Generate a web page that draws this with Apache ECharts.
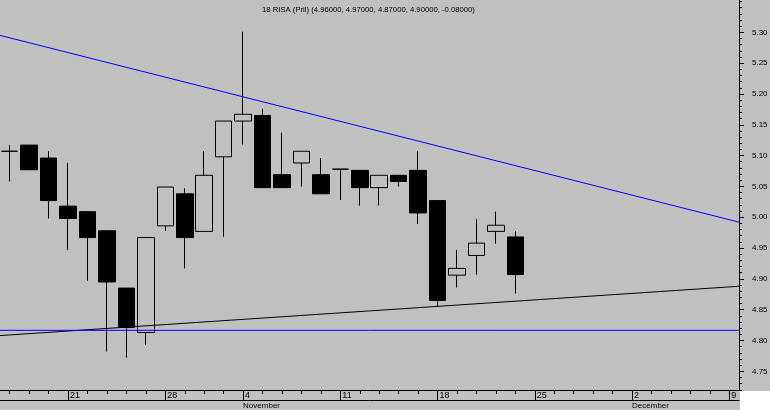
<!DOCTYPE html>
<html><head><meta charset="utf-8">
<script src="https://cdn.jsdelivr.net/npm/echarts@6/dist/echarts.min.js"></script>
<style>html,body{margin:0;padding:0;background:#c0c0c0}#c{width:770px;height:410px}</style>
</head><body><div id="c"></div>
<script>
// ---- data ----
const dates = ['2002-10-16','2002-10-17','2002-10-18',
  '2002-10-21','2002-10-22','2002-10-23','2002-10-24','2002-10-25',
  '2002-10-28','2002-10-29','2002-10-30','2002-10-31',
  '2002-11-04','2002-11-05','2002-11-06','2002-11-07','2002-11-08',
  '2002-11-11','2002-11-12','2002-11-13','2002-11-14','2002-11-15',
  '2002-11-18','2002-11-19','2002-11-20','2002-11-21','2002-11-22',
  '2002-11-25','2002-11-26','2002-11-27','2002-11-28','2002-11-29',
  '2002-12-02','2002-12-03','2002-12-04','2002-12-05','2002-12-06',
  '2002-12-09'];
const opens  = [5.107,5.117,5.096,5.018,5.009,4.978,4.885,4.813,4.986,5.038,4.977,5.098,5.156,5.165,5.069,5.088,5.069,5.078,5.076,5.048,5.068,5.076,5.027,4.906,4.938,4.977,4.968];
const closes = [5.107,5.077,5.027,4.998,4.967,4.895,4.821,4.967,5.049,4.967,5.068,5.156,5.167,5.048,5.048,5.107,5.038,5.078,5.048,5.068,5.058,5.007,4.865,4.917,4.958,4.987,4.907];
const lows   = [5.058,5.077,4.998,4.947,4.897,4.782,4.772,4.793,4.978,4.917,4.977,4.968,5.118,5.048,5.048,5.050,5.038,5.028,5.019,5.019,5.050,4.989,4.856,4.886,4.907,4.957,4.876];
const highs  = [5.117,5.117,5.107,5.088,5.009,4.978,4.885,4.967,5.049,5.047,5.107,5.156,5.301,5.176,5.137,5.107,5.096,5.078,5.076,5.068,5.068,5.107,5.027,4.947,4.997,5.009,4.978];

const dayLabelDates = ['2002-10-21','2002-10-28','2002-11-04','2002-11-11','2002-11-18','2002-11-25','2002-12-02','2002-12-09'];
const dayLabelTexts = ['21','28','4','11','18','25','2','9'];
const monthLabelDates = ['2002-11-04','2002-12-02'];
const monthLabelTexts = ['November','December'];
const yTickLabels = ['4.75','4.80','4.85','4.90','4.95','5.00','5.05','5.10','5.15','5.20','5.25','5.30'];

// trend lines: [category position, price]
const trendDown  = [[-0.5, 5.295], [37.5, 4.992]];
const trendUp    = [[-0.5, 4.808], [37.5, 4.888]];
const supportLvl = [[-0.5, 4.8165], [37.5, 4.8165]];

const titleText = '18 RISA (Pril) (4.96000, 4.97000, 4.87000, 4.90000, -0.08000)';

// ---- build ----
const yMin = 4.7197, yMax = 5.3524;
const majorVals = yTickLabels.map(Number);
const minorVals = [];
for (let k = 472; k <= 535; k++) minorVals.push(k / 100);
const candles = opens.map((o, i) => [o, closes[i], lows[i], highs[i]]);
const FONT = '"Liberation Sans", Arial, sans-serif';

const chart = echarts.init(document.getElementById('c'), null, {renderer: 'canvas'});
chart.setOption({
  animation: false,
  backgroundColor: '#c0c0c0',
  grid: {left: 0, right: 31, top: 0, bottom: 20, containLabel: false, outerBoundsMode: 'none'},
  graphic: [
    {type: 'rect', left: 740, top: 391, shape: {width: 30, height: 19}, style: {fill: '#ffffff'}, silent: true},
    {type: 'text', x: 368.5, y: 9.5, style: {text: titleText, align: 'center', verticalAlign: 'middle',
      font: '7.7px ' + FONT, fill: '#000'}, silent: true}
  ],
  xAxis: [
    { type: 'category', data: dates, position: 'bottom', boundaryGap: true,
      axisLine: {show: true, onZero: false, lineStyle: {color: '#000', width: 1}},
      axisTick: {show: true, alignWithLabel: true, interval: 0, length: 4, lineStyle: {color: '#000'}},
      axisLabel: {show: true, interval: (i, v) => dayLabelDates.indexOf(v) >= 0,
        formatter: v => dayLabelTexts[dayLabelDates.indexOf(v)] || '',
        align: 'left', margin: 1, padding: [0, 0, 0, 2], fontSize: 9, lineHeight: 10, color: '#000', fontFamily: FONT},
      splitLine: {show: false}
    },
    { type: 'category', data: dates, position: 'bottom', boundaryGap: true,
      axisLine: {show: false, onZero: false},
      axisTick: {show: true, alignWithLabel: true, interval: (i, v) => dayLabelDates.indexOf(v) >= 0,
        length: 10, lineStyle: {color: '#000'}},
      axisLabel: {show: false}, splitLine: {show: false}
    },
    { type: 'category', data: dates, position: 'bottom', offset: 10, boundaryGap: true,
      axisLine: {show: true, onZero: false, lineStyle: {color: '#000', width: 1}},
      axisTick: {show: false},
      axisLabel: {show: true, interval: (i, v) => monthLabelDates.indexOf(v) >= 0,
        formatter: v => monthLabelTexts[monthLabelDates.indexOf(v)] || '',
        align: 'left', margin: 1, padding: [0, 0, 0, 0], fontSize: 8, lineHeight: 9, color: '#000', fontFamily: FONT},
      splitLine: {show: false}
    },
    { type: 'value', min: -0.5, max: 37.5, show: false, position: 'top', axisLine: {onZero: false} }
  ],
  yAxis: [
    { type: 'value', position: 'right', min: yMin, max: yMax, scale: true,
      axisLine: {show: true, onZero: false, lineStyle: {color: '#000', width: 1}},
      axisTick: {show: true, customValues: majorVals, length: 5, lineStyle: {color: '#000'}},
      axisLabel: {show: true, customValues: majorVals, formatter: v => v.toFixed(2),
        margin: 13, fontSize: 8, color: '#000', fontFamily: FONT},
      splitLine: {show: false}
    },
    { type: 'value', position: 'right', min: yMin, max: yMax, scale: true,
      axisLine: {show: false, onZero: false},
      axisTick: {show: true, customValues: minorVals, length: 3, lineStyle: {color: '#000'}},
      axisLabel: {show: false}, splitLine: {show: false}
    }
  ],
  series: [
    { type: 'candlestick', xAxisIndex: 0, yAxisIndex: 0, data: candles, barWidth: 17,
      itemStyle: {color: '#c0c0c0', color0: '#000000', borderColor: '#000000', borderColor0: '#000000', borderWidth: 1},
      silent: true },
    { type: 'line', xAxisIndex: 3, yAxisIndex: 0, data: trendDown, symbol: 'none',
      lineStyle: {color: '#0000ff', width: 1}, silent: true },
    { type: 'line', xAxisIndex: 3, yAxisIndex: 0, data: trendUp, symbol: 'none',
      lineStyle: {color: '#000000', width: 1}, silent: true },
    { type: 'line', xAxisIndex: 3, yAxisIndex: 0, data: supportLvl, symbol: 'none',
      lineStyle: {color: '#0000ff', width: 1}, silent: true }
  ]
});
</script>
</body></html>
